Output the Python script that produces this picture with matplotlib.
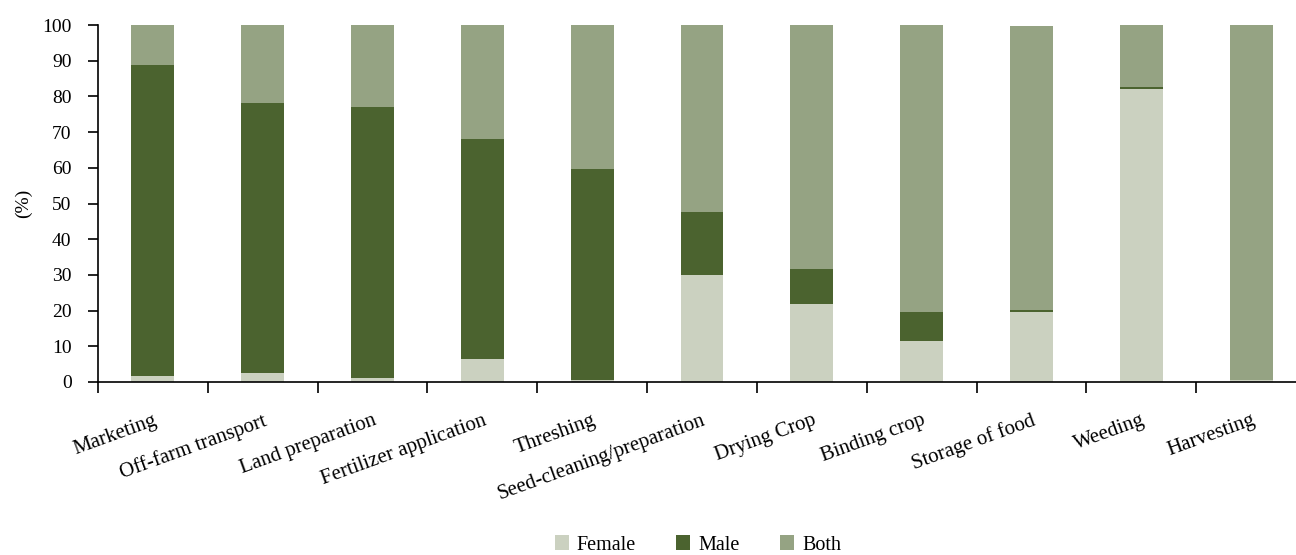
import matplotlib
matplotlib.use("Agg")
import matplotlib.pyplot as plt
import numpy as np

activities = ["Marketing", "Off-farm transport", "Land preparation",
              "Fertilizer application", "Threshing", "Seed-cleaning/preparation",
              "Drying Crop", "Binding crop", "Storage of food", "Weeding",
              "Harvesting"]
female = [1.6, 2.4, 1.0, 6.4, 0.5, 29.9, 21.8, 11.4, 19.6, 82.1, 0.5]
male = [87.2, 75.7, 76.0, 61.6, 59.1, 17.7, 9.8, 8.2, 0.5, 0.5, 0.0]
both = [11.1, 21.9, 23.0, 32.0, 40.4, 52.4, 68.4, 80.4, 79.7, 17.4, 99.5]

series_names = ["Female", "Male", "Both"]
colors = ["#cbd1c0", "#4b632f", "#95a383"]

plt.rcParams["font.family"] = ["Liberation Serif", "DejaVu Serif"]

W, H = 1296, 555
fig = plt.figure(figsize=(W / 100, H / 100), dpi=100)
ax = fig.add_axes([98 / W, (H - 382) / H, 1208 / W, 357 / H])

x = np.arange(len(activities))
bottom = np.zeros(len(activities))
for name, vals, c in zip(series_names, [female, male, both], colors):
    vals = np.array(vals)
    ax.bar(x, vals, 0.39, bottom=bottom, color=c, label=name, linewidth=0)
    bottom += vals

ax.set_xlim(-0.5, len(activities) - 0.5)
ax.set_ylim(0, 100)
ax.set_yticks(np.arange(0, 101, 10))
ax.set_xticks(np.arange(len(activities) + 1) - 0.5, minor=False)
ax.set_xticklabels([])
ax.set_xticks(x, minor=True)
ax.set_xticklabels(activities, minor=True, rotation=20, ha="right",
                   rotation_mode="anchor", fontsize=15)
ax.tick_params(axis="x", which="minor", length=0, pad=21)
ax.tick_params(axis="x", which="major", direction="out", length=8, width=1.2)
ax.tick_params(axis="y", direction="out", length=7, width=1.2, labelsize=14, pad=12)

for s in ["top", "right"]:
    ax.spines[s].set_visible(False)
for s in ["left", "bottom"]:
    ax.spines[s].set_linewidth(1.2)

ax.set_ylabel("(%)", fontsize=14, labelpad=7)

fig.legend(loc="center", bbox_to_anchor=(698 / W, 1 - 545 / H), ncol=3,
           frameon=False, fontsize=14.5, handlelength=0.7, handleheight=0.7,
           columnspacing=2.0, handletextpad=0.4, borderaxespad=0)

fig.savefig("out.png", dpi=100)
